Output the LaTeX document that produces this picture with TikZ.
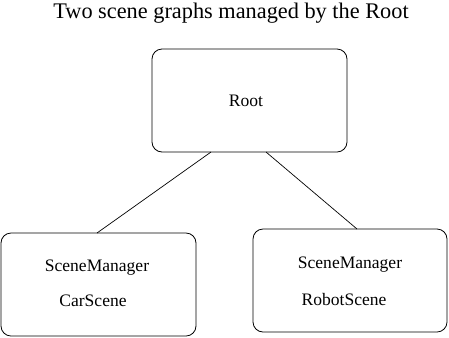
\documentclass[tikz,border=0pt]{standalone}
\usepackage{fontspec}
\newfontfamily\tmfont{Liberation Serif}
\begin{document}
\begin{tikzpicture}[x=1bp,y=-1bp,
  box/.style={draw,line width=0.8bp,rounded corners=10bp,minimum width=195bp,minimum height=103bp,inner sep=0pt},
  lbl/.style={inner sep=0pt,font=\tmfont\fontsize{17.6}{20}\selectfont},
  link/.style={line width=0.7bp}]
  \useasboundingbox (0,0) rectangle (449,337);
  % title
  \node[inner sep=0pt,font=\tmfont\fontsize{22.4}{25}\selectfont] (title) at (231,13) {Two scene graphs managed by the Root};
  % boxes
  \node[box] (root) at (249.5,100.5) {};
  \node[box] (car) at (98.5,284.5) {};
  \node[box,minimum width=194bp] (robot) at (350,280.5) {};
  % labels
  \node[lbl] (rootlbl) at (246,101) {Root};
  \node[lbl] (carmgr) at (97,268) {SceneManager};
  \node[lbl] (carname) at (93,301) {CarScene};
  \node[lbl] (robotmgr) at (350,265) {SceneManager};
  \node[lbl] (robotname) at (344,299) {RobotScene};
  % attachment points
  \coordinate (rl) at (211,152);
  \coordinate (rr) at (266,152);
  \coordinate (ct) at (97,233);
  \coordinate (bt) at (357,229);
  \draw[link] (rl) -- (ct);
  \draw[link] (rr) -- (bt);
\end{tikzpicture}
\end{document}
